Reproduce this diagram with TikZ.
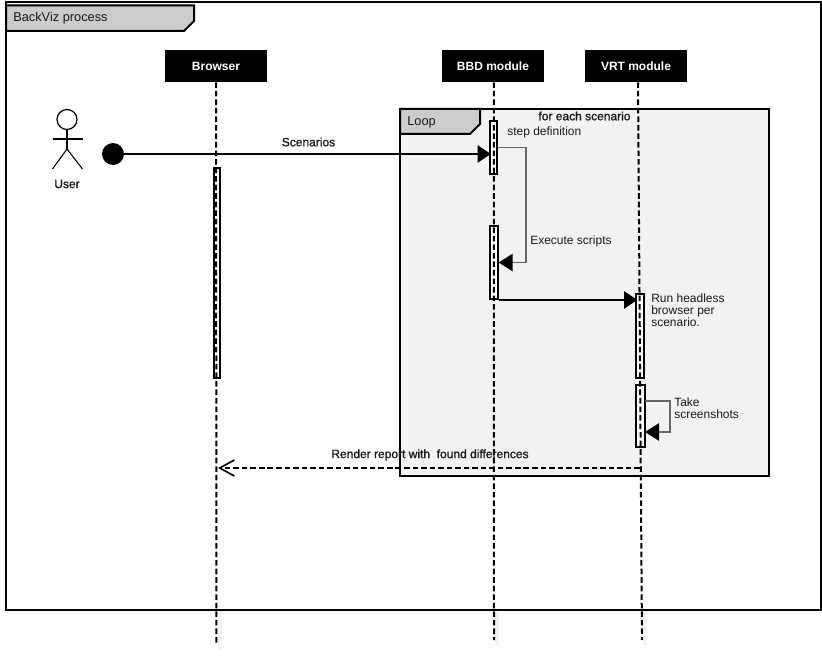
\documentclass[tikz,border=0pt]{standalone}
\usepackage{fontspec}
\setmainfont{Liberation Sans}
\newfontfamily\heavyfont[FakeBold=1.2]{Liberation Sans}
\usetikzlibrary{arrows.meta, positioning}

\definecolor{tabgray}{HTML}{CCCCCC}
\definecolor{loopfill}{HTML}{F2F2F5}
\definecolor{selfgray}{HTML}{666666}
\definecolor{textgray}{HTML}{1A1A1A}

\begin{document}
\begin{tikzpicture}[
    x=0.75pt, y=-0.75pt,
    frame_box/.style={
        rectangle,
        draw=black, line width=1.5pt,
        inner sep=0pt
    },
    tab_shape/.style={
        draw=black, line width=1.5pt,
        fill=tabgray, line join=miter
    },
    head/.style={
        rectangle,
        fill=black, text=white,
        minimum width=76.5pt,
        minimum height=24pt,
        inner sep=0pt,
        font=\fontsize{9}{9}\selectfont\bfseries
    },
    activation/.style={
        rectangle,
        draw=black, line width=1.4pt,
        fill=white,
        inner sep=0pt
    },
    life_line/.style={
        line width=1.5pt, dash pattern=on 4.2pt off 2.2pt
    },
    life_shadow/.style={
        line width=3pt, draw=black!5
    },
    call/.style={
        line width=1.5pt, shorten >=-1.5pt,
        -{Triangle[length=10pt, width=13pt]}
    },
    self_call/.style={
        line width=1.2pt, draw=selfgray,
        -{Triangle[length=10.5pt, width=13pt, color=black]}
    },
    reply/.style={
        line width=1.5pt, dash pattern=on 4.2pt off 2.2pt,
        -{Straight Barb[length=11pt, width=12pt, line width=1.2pt]}
    },
    plain_text/.style={
        inner sep=0pt, align=left, text=textgray,
        font=\fontsize{9}{9}\selectfont
    },
    heavy_text/.style={
        inner sep=0pt, text=textgray,
        font=\fontsize{9}{9}\selectfont\heavyfont
    }
]
\useasboundingbox (0,0) rectangle (822,656);

\coordinate (browser_end) at (216.5,645);
\coordinate (bbd_end) at (494,640);
\coordinate (vrt_end) at (642,640);
\coordinate (report_start) at (640,468);
\coordinate (report_end) at (218,468);
\coordinate (shot_out) at (645,401);
\coordinate (shot_in) at (645,432);
\coordinate (browser_shadow) at (219.5,650);
\coordinate (bbd_shadow) at (497,645);
\coordinate (vrt_shadow) at (645,645);

% shadows under the lifelines
\draw [life_shadow] (browser_shadow) -- ++(0,-45);
\draw [life_shadow] (bbd_shadow) -- ++(0,-40);
\draw [life_shadow] (vrt_shadow) -- ++(0,-40);

% frames
\node (backviz) [frame_box, fill=white, minimum width=611.25pt, minimum height=456pt] at (413.5,306) {};
\draw [tab_shape] (6,5.5) -- (194,5.5) -- (194,21) -- (184,31) -- (6,31) -- cycle;
\node (backviz_label) [plain_text, anchor=west, font=\fontsize{9.6}{9.6}\selectfont] at (13,18.5) {BackViz process};

\node (loop) [frame_box, fill=loopfill, minimum width=276.75pt, minimum height=275.25pt] at (584.5,292.5) {};
\draw [tab_shape] (400,109) -- (480,109) -- (480,124) -- (470,134) -- (400,134) -- cycle;
\node (loop_label) [plain_text, anchor=west, font=\fontsize{9.6}{9.6}\selectfont] at (407,122) {Loop};

% heads
\node (browser) [head] at (216,66) {Browser};
\node (bbd) [head, right=130.8pt of browser] {BBD module};
\node (vrt) [head, right=30.4pt of bbd] {VRT module};

% actor
\node (user_head) [circle, draw=black, line width=0.9pt, minimum size=15pt, inner sep=0pt] at (67,119.5) {};
\coordinate (user_hip) at (67,149);
\draw [line width=0.8pt] (user_head) -- (user_hip);
\draw [line width=0.8pt] (52.5,139) -- (82.5,139);
\draw [line width=0.8pt] (52.5,169) -- (user_hip) -- (82.5,169);
\node (user) [heavy_text] at (67,184) {User};
\node (user_dot) [circle, fill=black, minimum size=16.5pt, inner sep=0pt] at (113,154) {};

% activation bars
\node (browser_bar) [activation, minimum width=4.5pt, minimum height=157.5pt] at (217,273) {};
\node (step_bar) [activation, minimum width=5.6pt, minimum height=39.75pt] at (493.5,147.5) {};
\node (exec_bar) [activation, minimum width=5.6pt, minimum height=54.75pt] at (494,262.5) {};
\node (run_bar) [activation, minimum width=5.6pt, minimum height=63pt] at (640,336) {};
\node (shot_bar) [activation, minimum width=6.2pt, minimum height=46.5pt] at (640.5,416) {};

% lifelines
\draw [life_line] (browser) -- (browser_end);
\draw [life_line] (bbd.south) ++(1,0) -- (bbd_end);
\draw [life_line] (vrt.south) ++(2,0) -- (vrt_end);

% messages
\draw [call] (user_dot) -- (step_bar.west |- user_dot);
\draw [self_call] (step_bar.east) -- ++(28,0) |- (exec_bar.east);
\draw [call] (exec_bar.south east) -- (run_bar.west |- exec_bar.south);
\draw [self_call] (shot_out) -- ++(25,0) |- (shot_in);
\draw [reply] (report_start) -- (report_end);

% labels
\node (scenarios_label) [heavy_text] at (308.5,142) {Scenarios};
\node (each_label) [heavy_text] at (584.5,116) {for each scenario};
\node (step_label) [plain_text, anchor=west] at (507,132.5) {step definition};
\node (exec_label) [plain_text, anchor=west] at (530,241) {Execute scripts};
\node (run_label) [plain_text, anchor=north west] at (651,294) {Run headless\\browser per\\scenario.};
\node (shot_label) [plain_text, anchor=north west] at (674,398) {Take\\screenshots};
\node (report_label) [heavy_text] at (430,455) {Render report with\ \ found differences};
\end{tikzpicture}
\end{document}
